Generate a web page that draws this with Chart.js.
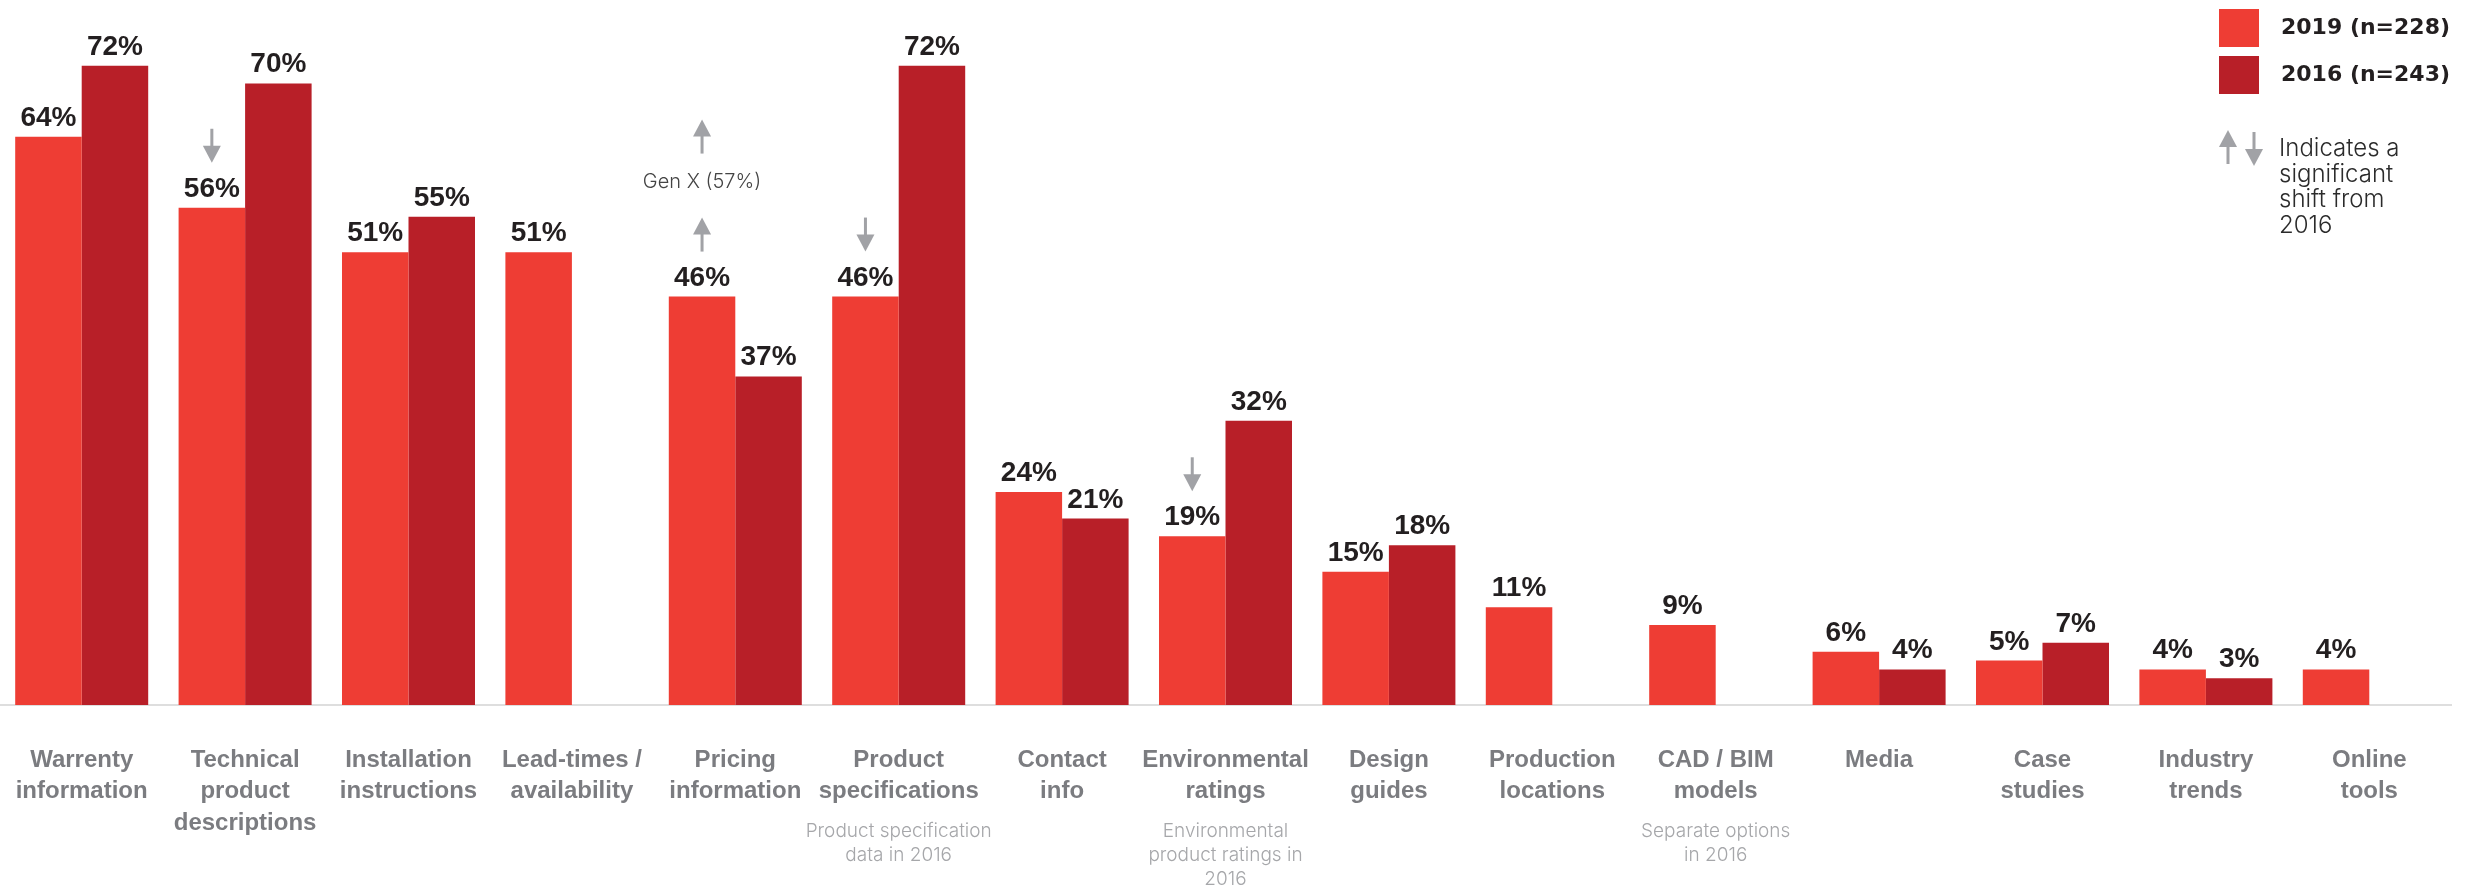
<!DOCTYPE html>
<html>
<head>
<meta charset="utf-8">
<title>Product information sought</title>
<script src="https://cdn.jsdelivr.net/npm/chart.js@4.4.1/dist/chart.umd.min.js"></script>
<style>
  html, body { margin: 0; padding: 0; background: #fff; }
  #wrap { width: 2473px; height: 887px; }
</style>
</head>
<body>
<div id="wrap"><canvas id="infoChart" width="2473" height="887"></canvas></div>
<script>
const categories = [
    ['Warrenty', 'information'],
    ['Technical', 'product', 'descriptions'],
    ['Installation', 'instructions'],
    ['Lead-times /', 'availability'],
    ['Pricing', 'information'],
    ['Product', 'specifications'],
    ['Contact', 'info'],
    ['Environmental', 'ratings'],
    ['Design', 'guides'],
    ['Production', 'locations'],
    ['CAD / BIM', 'models'],
    ['Media'],
    ['Case', 'studies'],
    ['Industry', 'trends'],
    ['Online', 'tools']
];
const values2019 = [64, 56, 51, 51, 46, 46, 24, 19, 15, 11, 9, 6, 5, 4, 4];
const values2016 = [72, 70, 55, null, 37, 72, 21, 32, 18, null, null, 4, 7, 3, null];
const seriesLabels = ['2019 (n=228)', '2016 (n=243)'];
const seriesColors = ['#ee3d34', '#b81f28'];

// significant shifts from 2016 (marked on the 2019 bar)
const shiftUp = [4];
const shiftDown = [1, 5, 7];
const genXNote = { index: 4, text: 'Gen X (57%)' };

const subNotes = [
    null, null, null, null, null,
    ['Product specification', 'data in 2016'],
    null,
    ['Environmental', 'product ratings in', '2016'],
    null, null,
    ['Separate options', 'in 2016'],
    null, null, null, null
];
const shiftLegend = ['Indicates a', 'significant', 'shift from', '2016'];

const ARROW_GREY = '#a1a2a6';

function drawArrow(ctx, x, yTop, dir) {
    const len = 34, headH = 17, headW = 18, shaft = 3;
    ctx.save();
    ctx.fillStyle = ARROW_GREY;
    ctx.beginPath();
    if (dir === 'up') {
        ctx.moveTo(x, yTop);
        ctx.lineTo(x + headW / 2, yTop + headH);
        ctx.lineTo(x - headW / 2, yTop + headH);
        ctx.closePath();
        ctx.fill();
        ctx.fillRect(x - shaft / 2, yTop + headH - 1, shaft, len - headH + 1);
    } else {
        const yBot = yTop + len;
        ctx.moveTo(x, yBot);
        ctx.lineTo(x + headW / 2, yBot - headH);
        ctx.lineTo(x - headW / 2, yBot - headH);
        ctx.closePath();
        ctx.fill();
        ctx.fillRect(x - shaft / 2, yTop, shaft, len - headH + 1);
    }
    ctx.restore();
}

const annotations = {
    id: 'annotations',
    afterDatasetsDraw(chart) {
        const ctx = chart.ctx;
        const xScale = chart.scales.x;

        // value labels above every bar
        ctx.save();
        ctx.font = 'bold 28px "Liberation Sans"';
        ctx.fillStyle = '#231f20';
        ctx.textAlign = 'center';
        ctx.textBaseline = 'alphabetic';
        chart.data.datasets.forEach((ds, di) => {
            chart.getDatasetMeta(di).data.forEach((bar, i) => {
                if (ds.data[i] == null) return;
                ctx.fillText(ds.data[i] + '%', bar.x, bar.y - 11);
            });
        });
        ctx.restore();

        // shift arrows over the 2019 bars
        const meta19 = chart.getDatasetMeta(0);
        shiftUp.forEach(i => {
            const bar = meta19.data[i];
            drawArrow(ctx, bar.x, bar.y - 45 - 34, 'up');
        });
        shiftDown.forEach(i => {
            const bar = meta19.data[i];
            drawArrow(ctx, bar.x, bar.y - 45 - 34, 'down');
        });

        // Gen X callout stacked over the pricing arrow
        const gBar = meta19.data[genXNote.index];
        const arrowTop = gBar.y - 45 - 34;
        ctx.save();
        ctx.font = '300 20px Inter';
        ctx.fillStyle = '#444';
        ctx.textAlign = 'center';
        ctx.textBaseline = 'middle';
        ctx.fillText(genXNote.text, gBar.x, arrowTop - 36);
        ctx.restore();
        drawArrow(ctx, gBar.x, arrowTop - 36 - 28 - 34, 'up');

        // grey notes under some category labels
        ctx.save();
        ctx.font = '300 19px Inter';
        ctx.fillStyle = '#a6a7aa';
        ctx.textAlign = 'center';
        ctx.textBaseline = 'middle';
        subNotes.forEach((lines, i) => {
            if (!lines) return;
            const x = xScale.getPixelForValue(i);
            lines.forEach((t, k) => ctx.fillText(t, x, 831 + k * 24));
        });
        ctx.restore();

        // legend block, top right
        ctx.save();
        ctx.textBaseline = 'middle';
        ctx.textAlign = 'left';
        seriesLabels.forEach((label, k) => {
            ctx.fillStyle = seriesColors[k];
            ctx.fillRect(2219, 9 + k * 47, 40, 38);
            ctx.fillStyle = '#231f20';
            ctx.font = 'bold 22px "DejaVu Sans"';
            ctx.fillText(label, 2281, 28 + k * 47);
        });
        ctx.restore();

        drawArrow(ctx, 2228, 130, 'up');
        drawArrow(ctx, 2254, 132, 'down');
        ctx.save();
        ctx.font = '300 24px Inter';
        ctx.fillStyle = '#2b2b2b';
        ctx.textAlign = 'left';
        ctx.textBaseline = 'alphabetic';
        shiftLegend.forEach((t, k) => ctx.fillText(t, 2279, 156 + k * 25.7));
        ctx.restore();
    }
};

new Chart(document.getElementById('infoChart').getContext('2d'), {
    type: 'bar',
    data: {
        labels: categories,
        datasets: [{
            label: seriesLabels[0],
            data: values2019,
            backgroundColor: seriesColors[0]
        }, {
            label: seriesLabels[1],
            data: values2016,
            backgroundColor: seriesColors[1]
        }]
    },
    options: {
        responsive: false,
        animation: false,
        devicePixelRatio: 1,
        layout: { padding: { left: 0, right: 22, top: 0, bottom: 0 } },
        datasets: {
            bar: { categoryPercentage: 0.814, barPercentage: 1 }
        },
        plugins: {
            legend: { display: false },
            tooltip: { enabled: false }
        },
        scales: {
            x: {
                grid: { display: false },
                border: { display: true, color: '#dedede', width: 2 },
                ticks: {
                    autoSkip: false,
                    maxRotation: 0,
                    padding: 32,
                    color: '#7b7c80',
                    font: { family: '"Liberation Sans"', weight: 'bold', size: 24, lineHeight: 1.3 }
                },
                afterFit(scale) {
                    // fixed label band; no side padding for the outer labels
                    scale.height = 182;
                    scale.paddingLeft = 0;
                    scale.paddingRight = 0;
                }
            },
            y: {
                display: false,
                min: 0,
                max: 79.4
            }
        }
    },
    plugins: [annotations]
});
</script>
</body>
</html>
